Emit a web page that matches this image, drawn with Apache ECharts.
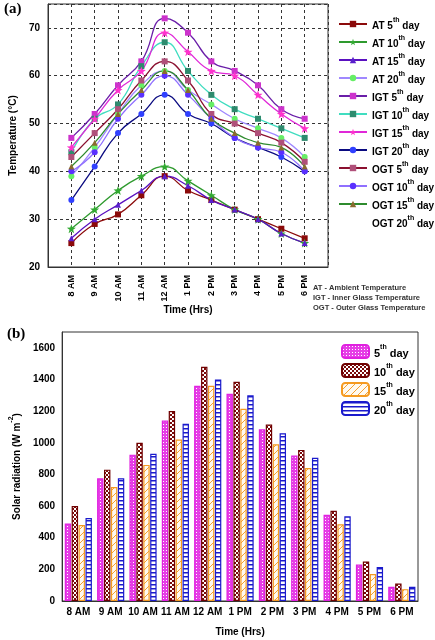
<!DOCTYPE html>
<html style="height: 100%">
<head>
<meta charset="utf-8">
<script src="https://cdn.jsdelivr.net/npm/echarts@6/dist/echarts.min.js"></script>
<style>
  body { margin: 0; background: #fff; }
  #main { width: 435px; height: 640px; }
</style>
</head>
<body>
<div id="main"></div>
<script>
// time axis labels
var timeLabels = ['8 AM', '9 AM', '10 AM', '11 AM', '12 AM', '1 PM', '2 PM', '3 PM', '4 PM', '5 PM', '6 PM'];

// (a) temperatures, deg C
var at5 = [25, 29, 31, 35, 39, 36, 34, 32, 30, 28, 26];
var at10 = [28, 32, 36, 39, 41, 38, 35, 32, 30, 27, 25];
var at15 = [26, 30, 33, 36, 39, 37, 34, 32, 30, 27, 25];
var at20 = [39, 45, 52, 58, 61, 57, 54, 51, 49, 47, 43];
var igt5 = [47, 52, 58, 63, 72, 69, 63, 61, 58, 53, 51];
var igt10 = [44, 51, 54, 62, 67, 61, 56, 53, 51, 49, 47];
var igt15 = [45, 51, 57, 61, 69, 65, 61, 60, 56, 52, 49];
var igt20 = [34, 41, 48, 52, 56, 52, 50, 47, 45, 43, 40];
var ogt5 = [43, 48, 53, 59, 63, 59, 52, 50, 48, 46, 42];
var ogt10 = [40, 44, 51, 56, 60, 56, 51, 47, 45, 44, 40];
var ogt15 = [41, 46, 52, 57, 61, 57, 51, 48, 46, 45, 41];
var ogt20 = [];

// (b) solar radiation, W m-2
var rad5 = [490, 775, 925, 1140, 1360, 1310, 1085, 920, 545, 230, 90];
var rad10 = [600, 830, 1000, 1200, 1480, 1385, 1115, 955, 570, 250, 110];
var rad15 = [480, 720, 860, 1020, 1360, 1215, 990, 840, 485, 170, 75];
var rad20 = [525, 775, 930, 1120, 1400, 1300, 1060, 905, 535, 215, 90];

var font = 'Liberation Sans, Arial, sans-serif';
var star = 'path://M0,-10 L2.35,-3.24 L9.51,-3.09 L3.8,1.24 L5.88,8.09 L0,4 L-5.88,8.09 L-3.8,1.24 L-9.51,-3.09 L-2.35,-3.24 Z';

// one empty slot each side of the top time axis
var padLabels = [''].concat(timeLabels, ['']);
function pad(arr) {
	if (!arr.length) return [];
	return [null].concat(arr, [null]);
}

function lineSeries(name, data, lineColor, symbol, symColor) {
	return {
		name: name,
		type: 'line',
		xAxisIndex: 0,
		yAxisIndex: 0,
		data: pad(data),
		smooth: 0.5,
		symbol: symbol,
		symbolSize: symbol == star ? 9 : 6,
		lineStyle: { color: lineColor, width: 1.3 },
		itemStyle: { color: symColor, borderWidth: 0 },
		emphasis: { disabled: true }
	};
}

function tile(w, h, draw) {
	var c = document.createElement('canvas');
	c.width = w;
	c.height = h;
	draw(c.getContext('2d'));
	return { image: c, repeat: 'repeat' };
}

var fill5 = tile(3, 3, function(ctx) {
	ctx.fillStyle = '#e63ee6';
	ctx.fillRect(0, 0, 3, 3);
	ctx.fillStyle = '#ffffff';
	ctx.fillRect(1, 1, 1, 1);
});
var fill10 = tile(4, 4, function(ctx) {
	ctx.fillStyle = '#ffffff';
	ctx.fillRect(0, 0, 4, 4);
	ctx.fillStyle = '#7a0a0a';
	ctx.fillRect(0, 0, 2, 2);
	ctx.fillRect(2, 2, 2, 2);
});
var fill15 = tile(7, 7, function(ctx) {
	ctx.fillStyle = '#fffaf0';
	ctx.fillRect(0, 0, 7, 7);
	ctx.strokeStyle = '#f5a030';
	ctx.lineWidth = 1;
	ctx.beginPath();
	ctx.moveTo(0, 7);
	ctx.lineTo(7, 0);
	ctx.stroke();
});
var fill20 = tile(4, 4, function(ctx) {
	ctx.fillStyle = '#ffffff';
	ctx.fillRect(0, 0, 4, 4);
	ctx.fillStyle = '#1a1acc';
	ctx.fillRect(0, 0, 4, 1.5);
});

function barSeries(name, data, fill, border) {
	return {
		name: name,
		type: 'bar',
		xAxisIndex: 1,
		yAxisIndex: 1,
		data: data,
		barGap: '8%',
		barCategoryGap: '16%',
		itemStyle: { color: fill, borderColor: border, borderWidth: 1.2 },
		emphasis: { disabled: true }
	};
}

function supName(name) {
	var m = name.match(/^(.*?\d+)(th)(.*)$/);
	if (!m) return '{n|' + name + '}';
	return '{n|' + m[1] + '}{s|' + m[2] + '}{n|' + m[3] + '}';
}

var richTop = {
	n: { fontSize: 10, fontWeight: 'bold', fontFamily: font, color: '#000', verticalAlign: 'bottom', lineHeight: 14 },
	s: { fontSize: 7, fontWeight: 'bold', fontFamily: font, color: '#000', verticalAlign: 'top', lineHeight: 14 }
};
var richBot = {
	n: { fontSize: 11, fontWeight: 'bold', fontFamily: font, color: '#000', verticalAlign: 'bottom', lineHeight: 15 },
	s: { fontSize: 7, fontWeight: 'bold', fontFamily: font, color: '#000', verticalAlign: 'top', lineHeight: 15 }
};

var myChart = echarts.init(document.getElementById('main'));

var option = {
	animation: false,
	backgroundColor: '#fff',
	grid: [
		{ left: 46, top: 4, width: 282, height: 263, show: true, borderColor: '#333', borderWidth: 1 },
		{ left: 59, top: 332, width: 359, height: 269, show: true, borderColor: '#333', borderWidth: 1 }
	],
	legend: [{
		orient: 'vertical',
		left: 333,
		top: 12,
		itemWidth: 28,
		itemHeight: 8,
		itemGap: 4,
		selectedMode: false,
		data: ['AT 5th day', 'AT 10th day', 'AT 15th day', 'AT 20th day',
			'IGT 5th day', 'IGT 10th day', 'IGT 15th day', 'IGT 20th day',
			'OGT 5th day', 'OGT 10th day', 'OGT 15th day', 'OGT 20th day'],
		formatter: supName,
		textStyle: { rich: richTop }
	}, {
		orient: 'vertical',
		left: 336,
		top: 339,
		itemWidth: 27,
		itemHeight: 13,
		itemGap: 4,
		selectedMode: false,
		data: ['5th day', '10th day', '15th day', '20th day'],
		formatter: supName,
		textStyle: { rich: richBot }
	}],
	xAxis: [{
		type: 'category',
		gridIndex: 0,
		data: padLabels,
		boundaryGap: false,
		axisLine: { lineStyle: { color: '#333' } },
		axisTick: { show: false },
		axisLabel: { interval: 0, rotate: 90, margin: 8, fontSize: 9, fontWeight: 'bold', fontFamily: font, color: '#000' },
		splitLine: { show: true, interval: 0, lineStyle: { color: '#333', type: [3, 3] } },
		name: 'Time (Hrs)',
		nameLocation: 'middle',
		nameGap: 38,
		nameTextStyle: { fontSize: 10, fontWeight: 'bold', fontFamily: font, color: '#000' }
	}, {
		type: 'category',
		gridIndex: 1,
		data: timeLabels,
		axisLine: { lineStyle: { color: '#333' } },
		axisTick: { show: false },
		axisLabel: { interval: 0, margin: 6, fontSize: 10, fontWeight: 'bold', fontFamily: font, color: '#000' },
		name: 'Time (Hrs)',
		nameLocation: 'middle',
		nameGap: 26,
		nameTextStyle: { fontSize: 10, fontWeight: 'bold', fontFamily: font, color: '#000' }
	}],
	yAxis: [{
		type: 'value',
		gridIndex: 0,
		min: 20,
		max: 75,
		interval: 10,
		axisLine: { show: true, lineStyle: { color: '#333' } },
		axisTick: { show: false },
		axisLabel: { showMaxLabel: false, margin: 8, fontSize: 10, fontWeight: 'bold', fontFamily: font, color: '#000' },
		splitLine: { show: true, lineStyle: { color: '#333', type: [3, 3] } },
		name: 'Temperature (°C)',
		nameLocation: 'middle',
		nameGap: 20,
		nameTextStyle: { fontSize: 10, fontWeight: 'bold', fontFamily: font, color: '#000' }
	}, {
		type: 'value',
		gridIndex: 1,
		min: 0,
		max: 1700,
		interval: 200,
		axisLine: { show: true, lineStyle: { color: '#333' } },
		axisTick: { show: false },
		axisLabel: {
			showMaxLabel: false, margin: 7, fontSize: 10, fontWeight: 'bold', fontFamily: font, color: '#000',
			formatter: function(v) { return String(v); }
		},
		splitLine: { show: false },
		name: '{n|Solar radiation (W m}{s|-2}{n|)}',
		nameLocation: 'middle',
		nameGap: 34,
		nameTextStyle: {
			rich: {
				n: { fontSize: 10, fontWeight: 'bold', fontFamily: font, color: '#000', verticalAlign: 'bottom', lineHeight: 14 },
				s: { fontSize: 7, fontWeight: 'bold', fontFamily: font, color: '#000', verticalAlign: 'top', lineHeight: 14 }
			}
		}
	}],
	graphic: [{
		type: 'text',
		left: 4,
		top: 2,
		style: { text: '(a)', font: 'bold 15px "Liberation Serif", serif', fill: '#000' }
	}, {
		type: 'text',
		left: 7,
		top: 327,
		style: { text: '(b)', font: 'bold 15px "Liberation Serif", serif', fill: '#000' }
	}, {
		type: 'text',
		left: 313,
		top: 283,
		style: {
			text: 'AT - Ambient Temperature\nIGT - Inner Glass Temperature\nOGT - Outer Glass Temperature',
			font: 'bold 7.5px "Liberation Sans", Arial, sans-serif',
			lineHeight: 10,
			fill: '#333'
		}
	}],
	series: [
		lineSeries('AT 5th day', at5, '#8b0a0a', 'rect', '#8b0a0a'),
		lineSeries('AT 10th day', at10, '#2e9a2e', star, '#33aa33'),
		lineSeries('AT 15th day', at15, '#5a10c0', 'triangle', '#5a20cc'),
		lineSeries('AT 20th day', at20, '#a088ff', 'circle', '#66ee66'),
		lineSeries('IGT 5th day', igt5, '#6a1ea8', 'rect', '#cc33cc'),
		lineSeries('IGT 10th day', igt10, '#40ddc0', 'rect', '#2e8b6e'),
		lineSeries('IGT 15th day', igt15, '#e028d8', star, '#ff33cc'),
		lineSeries('IGT 20th day', igt20, '#0a0a80', 'circle', '#3040ff'),
		lineSeries('OGT 5th day', ogt5, '#8b1030', 'rect', '#b0507a'),
		lineSeries('OGT 10th day', ogt10, '#9070ff', 'circle', '#5a30ff'),
		lineSeries('OGT 15th day', ogt15, '#2e8b2e', 'triangle', '#8a6a30'),
		lineSeries('OGT 20th day', ogt20, 'rgba(0,0,0,0)', 'none', 'rgba(0,0,0,0)'),
		barSeries('5th day', rad5, fill5, '#e020e0'),
		barSeries('10th day', rad10, fill10, '#700000'),
		barSeries('15th day', rad15, fill15, '#f59a20'),
		barSeries('20th day', rad20, fill20, '#1a1acc')
	]
};

myChart.setOption(option);
</script>
</body>
</html>
